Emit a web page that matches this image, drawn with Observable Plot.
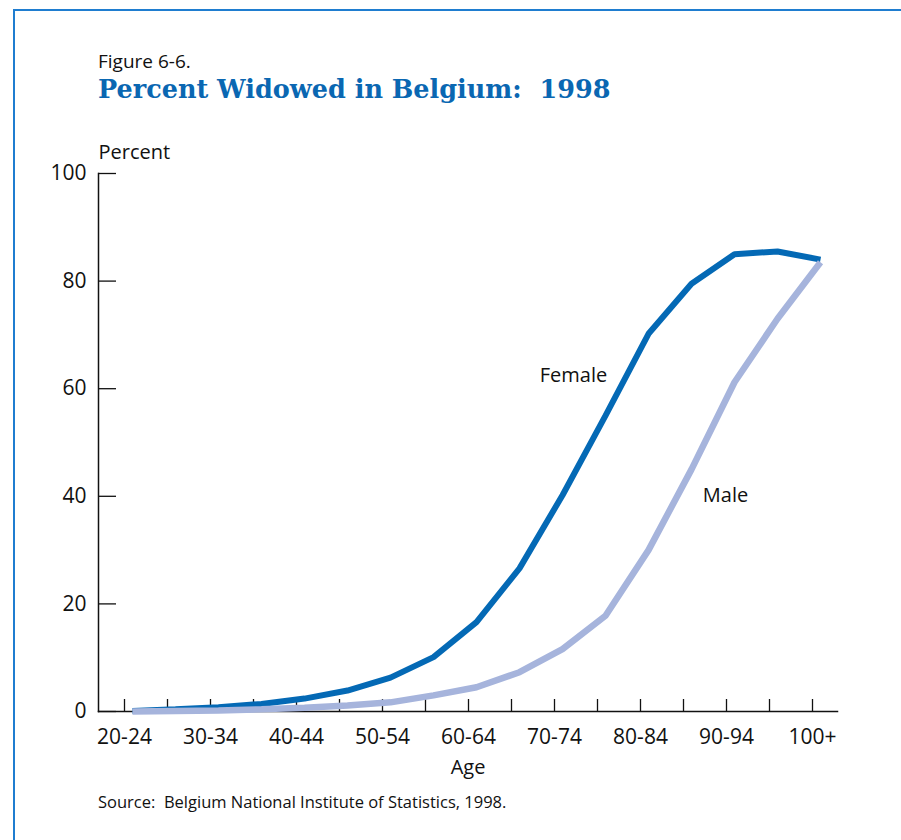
<!DOCTYPE html>
<html><head><meta charset="utf-8">
<script src="https://cdn.jsdelivr.net/npm/d3@7"></script>
<script src="https://cdn.jsdelivr.net/npm/@observablehq/plot@0.6"></script>
<style>
html,body{margin:0;padding:0;background:#fff;}
body{width:901px;height:840px;position:relative;overflow:hidden;font-family:"Open Sans",sans-serif;color:#111;}
#frame{position:absolute;left:13px;top:9px;right:0;bottom:0;border-top:2px solid #1f7dd0;border-left:2px solid #1f7dd0;z-index:2;pointer-events:none;}
#fig{position:absolute;left:98px;top:50px;font-size:19px;line-height:22px;white-space:nowrap;}
#title{position:absolute;left:98px;top:74px;font-family:"DejaVu Serif",serif;font-weight:bold;font-size:25.5px;line-height:30px;color:#0a67b2;white-space:pre;}
#chart{position:absolute;left:0;top:130px;}
#source{position:absolute;left:98px;top:792px;font-size:16.5px;line-height:20px;white-space:pre;}
</style></head><body>
<div id="frame"></div>
<div id="fig">Figure 6-6.</div>
<div id="title">Percent Widowed in Belgium:  1998</div>
<div id="chart"></div>
<div id="source">Source:  Belgium National Institute of Statistics, 1998.</div>
<script>
const ages = ["20-24","25-29","30-34","35-39","40-44","45-49","50-54","55-59","60-64","65-69","70-74","75-79","80-84","85-89","90-94","95-99","100+"];
const xLabels = ["20-24","30-34","40-44","50-54","60-64","70-74","80-84","90-94","100+"];
const female = [0.1,0.4,0.8,1.4,2.4,3.9,6.3,10.1,16.6,26.6,40.2,55,70.2,79.5,85,85.5,84];
const male = [0,0.1,0.2,0.4,0.7,1.1,1.7,3.0,4.5,7.3,11.6,17.8,30,45,61.2,73,83.5];
const yTicks = [0,20,40,60,80,100];
const seriesLabels = [
  {series:"Female", age:"75-79", value:62.4},
  {series:"Male", age:"90-94", value:40.1}
];

const femaleRows = ages.map((a,i)=>({age:a, value:female[i]}));
const maleRows = ages.map((a,i)=>({age:a, value:male[i]}));

const chart = Plot.plot({
  width:901, height:660,
  marginLeft:98, marginRight:64, marginTop:43, marginBottom:79,
  style:{fontFamily:"Open Sans, sans-serif", fontSize:"20px", color:"#111", background:"transparent", overflow:"visible"},
  x:{type:"point", domain:ages, padding:0.52},
  y:{domain:[0,100]},
  marks:[
    Plot.axisX({ticks:ages, tickSize:-12, tickPadding:30, strokeWidth:1.3, label:null, fontSize:21,
      tickFormat:d=>xLabels.includes(d)?d:""}),
    Plot.axisY({ticks:yTicks, tickSize:-18, tickPadding:30, strokeWidth:1.3, label:null, fontSize:21}),
    Plot.frame({anchor:"left", stroke:"#111", strokeWidth:1.5}),
    Plot.frame({anchor:"bottom", stroke:"#111", strokeWidth:1.5}),
    Plot.text(["Age"], {frameAnchor:"bottom", dy:56, lineAnchor:"middle", fontSize:20}),
    Plot.text(["Percent"], {frameAnchor:"top-left", textAnchor:"start", dy:-21, lineAnchor:"middle", fontSize:20}),
    Plot.line(femaleRows, {x:"age", y:"value", stroke:"#0469b5", strokeWidth:6, dx:8, strokeLinejoin:"miter", strokeLinecap:"butt"}),
    Plot.line(maleRows, {x:"age", y:"value", stroke:"#a6b4dc", strokeWidth:6.5, dx:8, strokeLinejoin:"miter", strokeLinecap:"butt"}),
    Plot.text(seriesLabels.filter(d=>d.series==="Female"), {x:"age", y:"value", text:"series", dx:-24, fontSize:20}),
    Plot.text(seriesLabels.filter(d=>d.series==="Male"), {x:"age", y:"value", text:"series", dx:-1, fontSize:20})
  ]
});
document.getElementById("chart").appendChild(chart);
</script>
</body></html>
